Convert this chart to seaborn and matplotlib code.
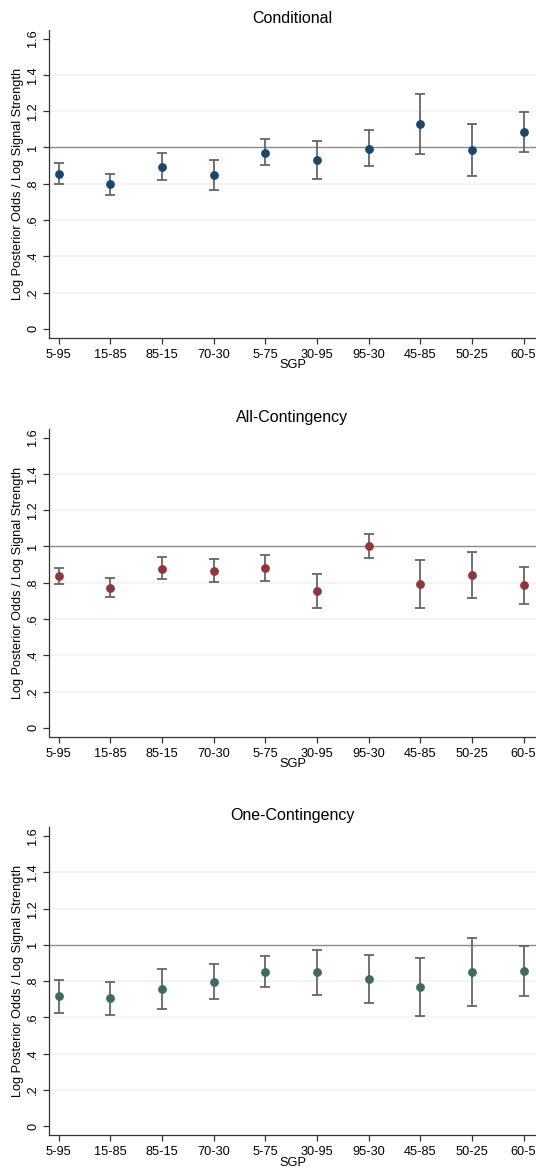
import numpy as np
import pandas as pd
import matplotlib
matplotlib.use("Agg")
import matplotlib.pyplot as plt
import seaborn as sns

# SGP treatment labels (x axis)
sgp = ["5-95", "15-85", "85-15", "70-30", "5-75", "30-95", "95-30", "45-85", "50-25", "60-5"]

# Conditional
cond_est = [0.855, 0.796, 0.894, 0.848, 0.971, 0.930, 0.993, 1.128, 0.985, 1.083]
cond_lo = [0.796, 0.738, 0.818, 0.767, 0.903, 0.828, 0.895, 0.961, 0.844, 0.976]
cond_hi = [0.914, 0.855, 0.967, 0.932, 1.044, 1.035, 1.094, 1.294, 1.128, 1.193]

# All-Contingency
all_est = [0.836, 0.773, 0.878, 0.867, 0.880, 0.755, 1.002, 0.791, 0.844, 0.785]
all_lo = [0.791, 0.722, 0.820, 0.804, 0.807, 0.662, 0.936, 0.660, 0.716, 0.685]
all_hi = [0.882, 0.824, 0.942, 0.931, 0.955, 0.849, 1.067, 0.924, 0.969, 0.885]

# One-Contingency
one_est = [0.717, 0.706, 0.759, 0.797, 0.852, 0.850, 0.812, 0.768, 0.852, 0.856]
one_lo = [0.627, 0.616, 0.649, 0.702, 0.768, 0.724, 0.682, 0.609, 0.665, 0.720]
one_hi = [0.804, 0.795, 0.868, 0.894, 0.938, 0.974, 0.943, 0.929, 1.038, 0.993]

ytick_vals = [0, 0.2, 0.4, 0.6, 0.8, 1.0, 1.2, 1.4, 1.6]
ytick_labels = ["0", ".2", ".4", ".6", ".8", "1", "1.2", "1.4", "1.6"]

panels = [
    ("Conditional", cond_est, cond_lo, cond_hi, "#1a476f"),
    ("All-Contingency", all_est, all_lo, all_hi, "#90353b"),
    ("One-Contingency", one_est, one_lo, one_hi, "#3b6b63"),
]

sns.set_theme(style="white")
plt.rcParams["font.family"] = ["Liberation Sans", "DejaVu Sans"]
plt.rcParams["text.color"] = "black"
plt.rcParams["axes.labelcolor"] = "black"
plt.rcParams["xtick.color"] = "black"
plt.rcParams["ytick.color"] = "black"

W, H = 536, 1173
fig = plt.figure(figsize=(W / 100, H / 100), dpi=100)

ax_left = 49
ax_h = 308
tops = [29.5, 428.5, 827]
fs = 9.2

for top, (title, est, lo, hi, color) in zip(tops, panels):
    ax = fig.add_axes([ax_left / W, 1 - (top + ax_h) / H, 1 - ax_left / W, ax_h / H])
    df = pd.DataFrame({"pos": np.arange(len(sgp)), "est": est, "lo": lo, "hi": hi})

    for y in [0.2, 0.4, 0.6, 0.8, 1.2, 1.4]:
        ax.axhline(y, color="#eef4f5", lw=1.2, zorder=0)
    ax.axhline(1, color="#8a8a8a", lw=1.0, zorder=1)

    ax.errorbar(df["pos"], df["est"], yerr=[df["est"] - df["lo"], df["hi"] - df["est"]],
                fmt="none", ecolor="#666666", elinewidth=1.3, capsize=3.5, capthick=1.3, zorder=2)
    sns.scatterplot(data=df, x="pos", y="est", color=color, s=40, linewidth=0, zorder=3, ax=ax)

    ax.set_xlim(-0.19, 9.24)
    ax.set_ylim(-0.048, 1.65)
    ax.set_xticks(df["pos"])
    ax.set_xticklabels(sgp, fontsize=fs)
    ax.set_yticks(ytick_vals)
    ax.set_yticklabels(ytick_labels, fontsize=fs, rotation=90, va="center")
    ax.tick_params(axis="both", direction="out", length=4, width=0.9, color="#333333")
    ax.tick_params(axis="x", bottom=True, pad=4)
    ax.tick_params(axis="y", left=True, pad=3)

    for side in ["top", "right"]:
        ax.spines[side].set_visible(False)
    for side in ["left", "bottom"]:
        ax.spines[side].set_color("#333333")
        ax.spines[side].set_linewidth(0.9)

    ax.set_xlabel("SGP", fontsize=fs, labelpad=-1)
    ax.set_ylabel("Log Posterior Odds / Log Signal Strength", fontsize=fs, labelpad=2)
    ax.set_title(title, fontsize=11.5, pad=5)

fig.savefig("out.png", dpi=100)
